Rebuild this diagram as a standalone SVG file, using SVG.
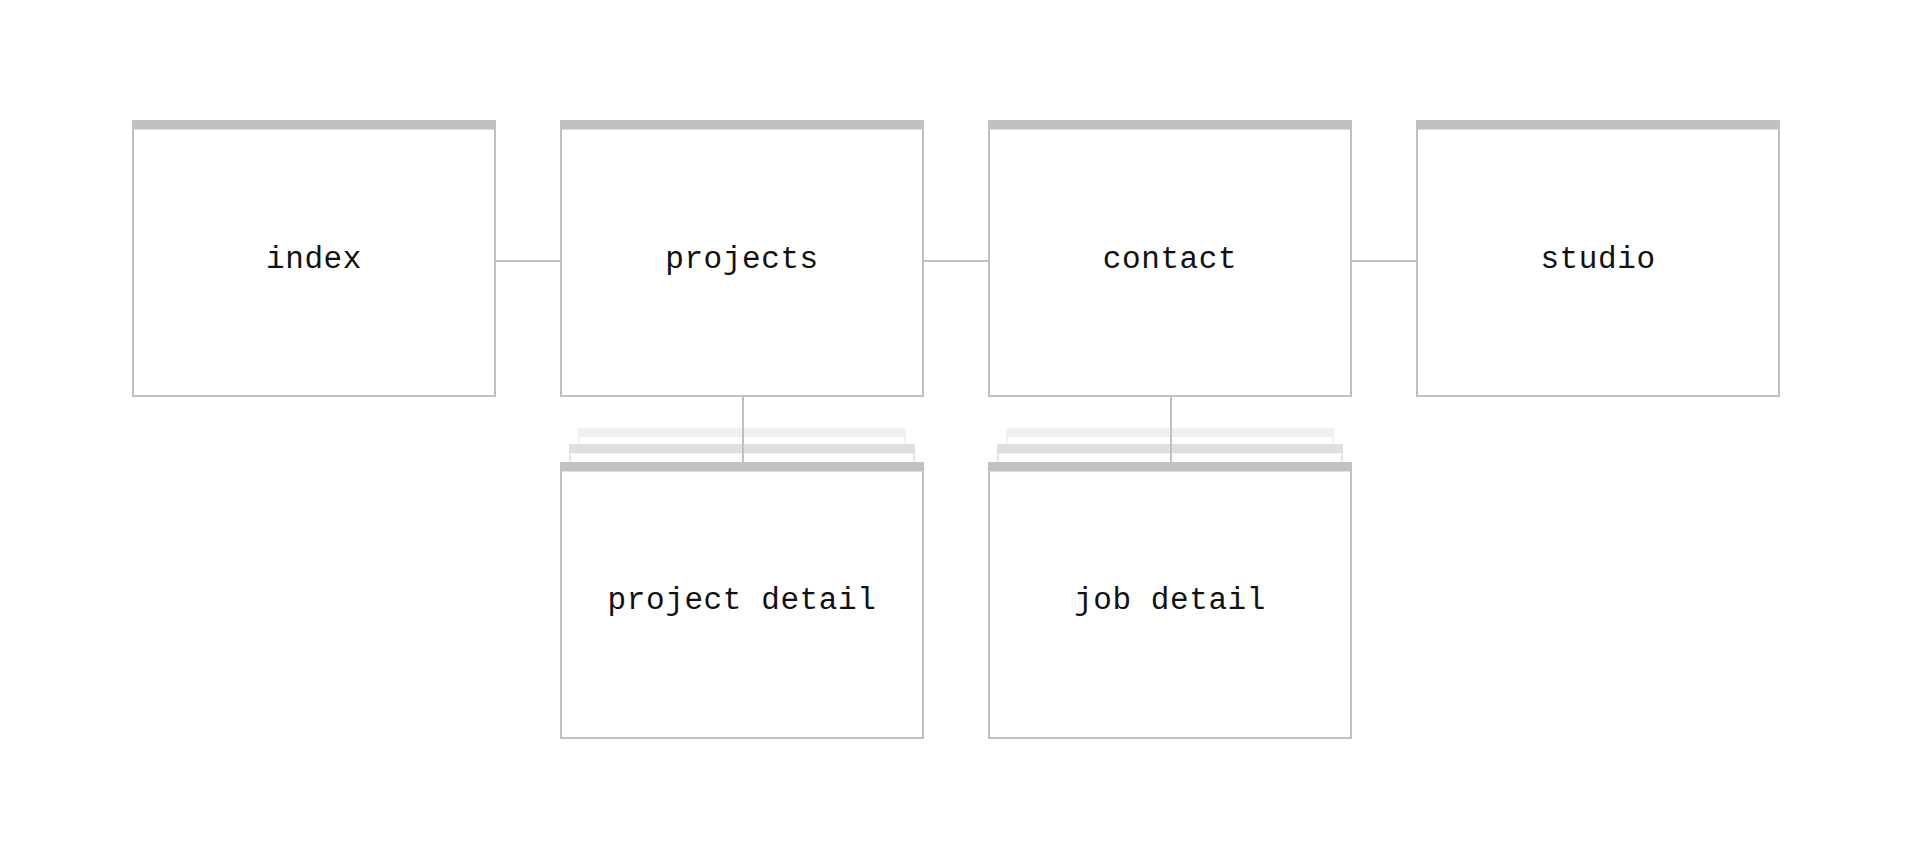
<svg xmlns="http://www.w3.org/2000/svg" width="1920" height="866" viewBox="0 0 1920 866">
  <style>
    .frame { fill: #ffffff; stroke: #c0c0c0; stroke-width: 2; }
    .bar { fill: #c1c1c1; }
    .label { font-family: "Liberation Mono", "DejaVu Sans Mono", monospace; font-size: 31px; letter-spacing: 0.6px; fill: #111111; text-anchor: middle; }
    .link { stroke: #c0c0c0; stroke-width: 2; fill: none; }
    .sheet-far .frame { stroke: #f3f3f3; }
    .sheet-far .bar { fill: #f0f0f0; }
    .sheet-near .frame { stroke: #e6e6e6; }
    .sheet-near .bar { fill: #dfdfdf; }
  </style>

  <!-- stacked pages behind the detail screens -->
  <g id="project-detail-stack">
    <g class="sheet-far">
      <rect class="frame" x="579" y="429" width="326" height="40"/>
      <rect class="bar" x="578" y="428" width="328" height="9"/>
    </g>
    <g class="sheet-near">
      <rect class="frame" x="570" y="445" width="344" height="30"/>
      <rect class="bar" x="569" y="444" width="346" height="9.5"/>
    </g>
  </g>
  <g id="job-detail-stack">
    <g class="sheet-far">
      <rect class="frame" x="1007" y="429" width="326" height="40"/>
      <rect class="bar" x="1006" y="428" width="328" height="9"/>
    </g>
    <g class="sheet-near">
      <rect class="frame" x="998" y="445" width="344" height="30"/>
      <rect class="bar" x="997" y="444" width="346" height="9.5"/>
    </g>
  </g>

  <!-- connectors -->
  <g id="connectors">
    <line class="link" x1="496" y1="261" x2="560" y2="261"/>
    <line class="link" x1="924" y1="261" x2="988" y2="261"/>
    <line class="link" x1="1352" y1="261" x2="1416" y2="261"/>
    <line class="link" x1="743" y1="397" x2="743" y2="462"/>
    <line class="link" x1="1171" y1="397" x2="1171" y2="462"/>
  </g>

  <!-- screens -->
  <g id="index">
    <rect class="frame" x="133" y="121" width="362" height="275"/>
    <rect class="bar" x="132" y="120" width="364" height="9.5"/>
    <text class="label" x="314" y="268">index</text>
  </g>
  <g id="projects">
    <rect class="frame" x="561" y="121" width="362" height="275"/>
    <rect class="bar" x="560" y="120" width="364" height="9.5"/>
    <text class="label" x="742" y="268">projects</text>
  </g>
  <g id="contact">
    <rect class="frame" x="989" y="121" width="362" height="275"/>
    <rect class="bar" x="988" y="120" width="364" height="9.5"/>
    <text class="label" x="1170" y="268">contact</text>
  </g>
  <g id="studio">
    <rect class="frame" x="1417" y="121" width="362" height="275"/>
    <rect class="bar" x="1416" y="120" width="364" height="9.5"/>
    <text class="label" x="1598" y="268">studio</text>
  </g>
  <g id="project-detail">
    <rect class="frame" x="561" y="463" width="362" height="275"/>
    <rect class="bar" x="560" y="462" width="364" height="9.5"/>
    <text class="label" x="742" y="609">project detail</text>
  </g>
  <g id="job-detail">
    <rect class="frame" x="989" y="463" width="362" height="275"/>
    <rect class="bar" x="988" y="462" width="364" height="9.5"/>
    <text class="label" x="1170" y="609">job detail</text>
  </g>
</svg>
